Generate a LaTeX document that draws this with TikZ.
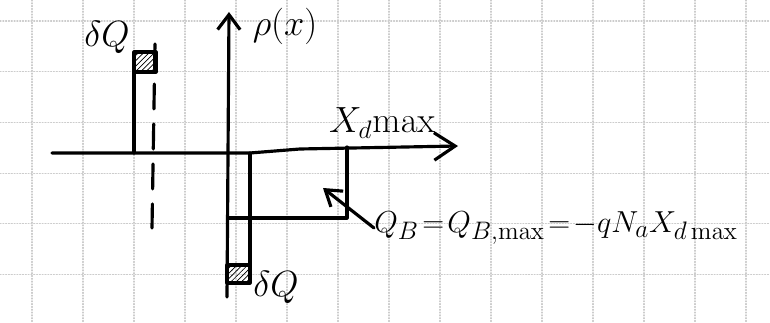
\documentclass[tikz,border=0pt]{standalone}
\usetikzlibrary{patterns, arrows.meta}

\begin{document}
\begin{tikzpicture}[x=0.02cm, y=-0.02cm, line cap=round, line join=round,
    ink/.style={line width=1.8pt, black},
    gridline/.style={gray!40, densely dotted, line width=0.6pt},
    hatchbox/.style={ink, pattern=north east lines},
    lbl/.style={inner sep=0pt, font=\fontsize{20}{24}\selectfont}]
            \def\gx{51}     % grid pitch, x
            \def\gy{50.7}   % grid pitch, y
            \useasboundingbox (0,0) rectangle (770,323);
            % Draw the squared paper
            \foreach \i in {0, ..., 14} {
                \draw[gridline] (32+\i*\gx, 0) -- (32+\i*\gx, 323);
            };
            \foreach \j in {0, ..., 5} {
                \draw[gridline] (0, 21+\j*\gy) -- (770, 21+\j*\gy);
            };
            % Axes
            \coordinate (xl) at (52,153);
            \coordinate (xr) at (458,146);
            \coordinate (yb) at (227,297);
            \coordinate (yt) at (229,12);
            \draw[ink, -{Straight Barb[length=0.42cm, width=0.55cm]}] (xl) -- (250,153) -- (300,149) -- (xr);
            \draw[ink, -{Straight Barb[length=0.3cm, width=0.45cm]}] (yb) -- (yt);
            \node[lbl] (rho) at (285,26) {\fontsize{22}{26}\selectfont$\rho(x)$};
            \node[lbl] (xd) at (382,123) {$X_{d}\mathrm{max}$};
            % Draw the positive sheet of charge
            \draw[ink] (134,153) -- (134,72) -- (153,72);
            \draw[hatchbox] (134,52) rectangle (156,72);
            \draw[ink, dash pattern=on 0.5cm off 0.3cm] (155,44) -- (152,228);
            \node[lbl] (dqtop) at (107,37) {$\delta Q$};
            % Draw the depletion charge
            \draw[ink] (250,153) -- (250,265);
            \draw[hatchbox] (227,265) rectangle (250,283);
            \node[lbl] (dqbot) at (276,287) {$\delta Q$};
            \draw[ink] (347,147) -- (347,218) -- (229,218);
            % Total charge
            \node[lbl, anchor=west, font=\fontsize{19}{23}\selectfont] (qb) at (374,228)
                {$Q_B\mkern2mu{=}\mkern2mu Q_{B,\max}\mkern2mu{=}\mkern2mu{-}qN_aX_{d\max}$};
            \coordinate (qbtip) at (323,188);
            \draw[ink, -{Straight Barb[length=0.3cm, width=0.4cm]}] (qb.west) -- (qbtip);
        \end{tikzpicture}
\end{document}
